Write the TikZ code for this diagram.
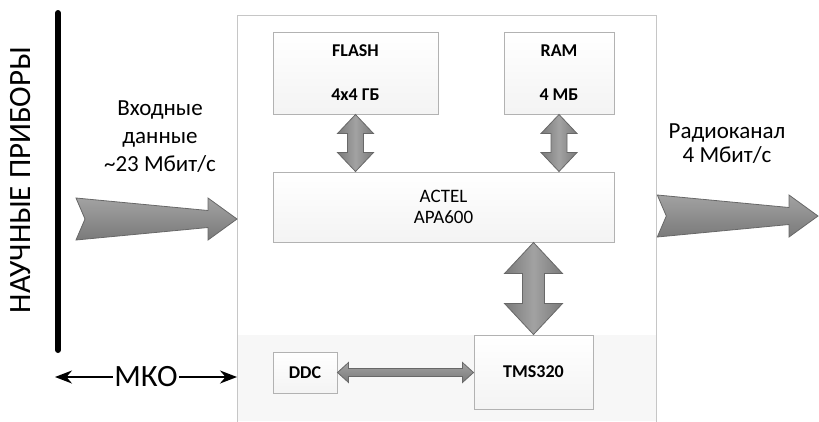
\documentclass[tikz,border=0pt]{standalone}
\usepackage{fontspec}
\setmainfont{Carlito}
\usepackage{xcolor}
\usetikzlibrary{arrows.meta,calc}

\definecolor{strkray}{HTML}{7A7A7A}
\definecolor{strsered}{HTML}{A2A2A2}
\definecolor{strobvod}{HTML}{686868}

% двойная вертикальная стрелка: верх, низ, полуширина стержня, полуширина головки, длина головки
\newcommand{\vdvstrelka}[5]{%
  \path[vstrelka] let \p1=(#1), \p2=(#2) in
    (\x1,\y1) -- (\x1+#4,\y1-#5) -- (\x1+#3,\y1-#5) -- (\x1+#3,\y2+#5) -- (\x1+#4,\y2+#5)
    -- (\x1,\y2) -- (\x1-#4,\y2+#5) -- (\x1-#3,\y2+#5) -- (\x1-#3,\y1-#5) -- (\x1-#4,\y1-#5) -- cycle;}

% двойная горизонтальная стрелка: слева, справа, те же параметры
\newcommand{\gdvstrelka}[5]{%
  \path[gstrelka] let \p1=(#1), \p2=(#2) in
    (\x1,\y1) -- (\x1+#5,\y1+#4) -- (\x1+#5,\y1+#3) -- (\x2-#5,\y1+#3) -- (\x2-#5,\y1+#4)
    -- (\x2,\y1) -- (\x2-#5,\y1-#4) -- (\x2-#5,\y1-#3) -- (\x1+#5,\y1-#3) -- (\x1+#5,\y1-#4) -- cycle;}

% толстая стрелка потока: хвост, остриё
\newcommand{\potok}[2]{%
  \path[gstrelka] let \p1=(#1), \p2=(#2) in
    (\x1,\y2+21pt) -- (\x2-29pt,\y2+8.5pt) -- (\x2-29pt,\y2+21pt) -- (\x2,\y2)
    -- (\x2-29pt,\y2-21pt) -- (\x2-29pt,\y2-8.5pt) -- (\x1,\y2-21pt) -- (\x1+9pt,\y2) -- cycle;}

\begin{document}
\begin{tikzpicture}[x=1pt,y=-1pt,
    blok/.style={draw=gray!60, line width=1pt, top color=white, bottom color=gray!9,
      align=center, inner sep=0pt},
    zhirn/.style={font=\bfseries\fontsize{18}{21}\selectfont},
    vstrelka/.style={draw=strobvod, line width=0.8pt, left color=strkray, right color=strkray, middle color=strsered},
    gstrelka/.style={draw=strobvod, line width=0.8pt, top color=strsered, bottom color=strkray},
    krupno/.style={font=\fontsize{31}{36}\selectfont}]

    \useasboundingbox (0,0) rectangle (819,421);

    % общий блок
    \fill[gray!6] (237,335) rectangle (656,421);
    \node[draw=gray!45, line width=1.3pt, minimum width=419pt, minimum height=430pt,
      anchor=north west, inner sep=0pt] (main) at (237,15) {};

    % блоки
    \node[blok, zhirn, minimum width=165pt, minimum height=82pt] (flash) at (355.5,73) {FLASH\\[23pt]4x4 ГБ};
    \node[blok, zhirn, minimum width=110pt, minimum height=82pt] (ram) at (559,73) {RAM\\[23pt]4 МБ};
    \node[blok, font=\fontsize{19}{21}\selectfont, minimum width=341pt, minimum height=70pt] (actel) at (443.5,207) {ACTEL\\APA600};
    \node[blok, zhirn, minimum width=119pt, minimum height=74pt] (tms) at (533.5,372) {TMS320};
    \node[blok, zhirn, minimum width=64pt, minimum height=41pt] (ddc) at (305,372.5) {DDC};

    % шины
    \vdvstrelka{flash.south}{actel.north}{8pt}{18pt}{19pt}
    \vdvstrelka{ram.south}{actel.north}{8pt}{18pt}{19pt}
    \vdvstrelka{tms.north |- actel.south}{tms.north}{11pt}{29pt}{31pt}
    \gdvstrelka{ddc.east}{tms.west}{4pt}{10pt}{11pt}

    % научные приборы
    \draw[line width=6pt, line cap=round] (58,13) -- (58,350);
    \node[krupno, rotate=90] (pribory) at (21,180) {НАУЧНЫЕ ПРИБОРЫ};

    % входной поток
    \node[font=\fontsize{23}{28}\selectfont, align=center] (vhodtxt) at (160,137)
      {Входные\\данные\\\textasciitilde23 Мбит/с};
    \coordinate (vhodA) at (76,219);
    \coordinate (vhodB) at (main.west |- vhodA);
    \potok{vhodA}{vhodB}

    % радиоканал
    \node[font=\fontsize{23}{24}\selectfont, align=center] (radtxt) at (727,144)
      {Радиоканал\\4 Мбит/с};
    \coordinate (radB) at (818,216);
    \coordinate (radA) at (main.east |- radB);
    \potok{radA}{radB}

    % МКО
    \node[krupno, inner sep=1.5pt] (mko) at (146,377) {МКО};
    \coordinate (mkoL) at (55,377);
    \draw[-{Stealth[length=17pt,width=13pt]}, line width=2pt] (mko.west) -- (mkoL);
    \draw[-{Stealth[length=17pt,width=13pt]}, line width=2pt] (mko.east) -- (main.west |- mko);

\end{tikzpicture}
\end{document}
